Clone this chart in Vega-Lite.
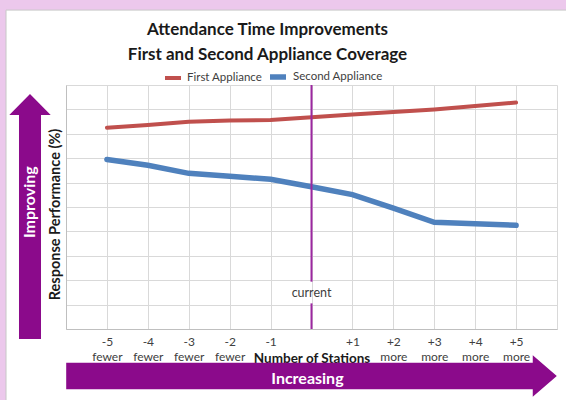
{
  "$schema": "https://vega.github.io/schema/vega-lite/v6.json",
  "width": 491,
  "height": 244,
  "autosize": "none",
  "padding": {"left": 66, "top": 85, "right": 9, "bottom": 71},
  "background": "white",
  "config": {"font": "Lato", "view": {"stroke": null}},
  "title": {
    "text": ["Attendance Time Improvements", "First and Second Appliance Coverage"],
    "font": "Lato", "fontSize": 17, "fontWeight": "bold", "color": "#1a1a1a",
    "frame": "group", "anchor": "middle", "dx": -44, "offset": -64, "lineHeight": 25
  },
  "datasets": {
    "frame": [
      {"x": -7.7, "x2": -7.466, "y": 134.8, "y2": -30},
      {"x": -7.7, "x2": 6.4, "y": 134.8, "y2": 130.7}
    ],
    "panel": [{"x": -7.466, "x2": 6.4, "y": 130.7, "y2": -30}],
    "series": [
      {"x": -5, "y": 82.5, "series": "First Appliance"},
      {"x": -4, "y": 83.6, "series": "First Appliance"},
      {"x": -3, "y": 84.9, "series": "First Appliance"},
      {"x": -2, "y": 85.4, "series": "First Appliance"},
      {"x": -1, "y": 85.7, "series": "First Appliance"},
      {"x": 0, "y": 86.8, "series": "First Appliance"},
      {"x": 1, "y": 87.9, "series": "First Appliance"},
      {"x": 2, "y": 88.9, "series": "First Appliance"},
      {"x": 3, "y": 90.0, "series": "First Appliance"},
      {"x": 4, "y": 91.4, "series": "First Appliance"},
      {"x": 5, "y": 92.8, "series": "First Appliance"},
      {"x": -5, "y": 69.5, "series": "Second Appliance"},
      {"x": -4, "y": 67.1, "series": "Second Appliance"},
      {"x": -3, "y": 63.8, "series": "Second Appliance"},
      {"x": -2, "y": 62.6, "series": "Second Appliance"},
      {"x": -1, "y": 61.4, "series": "Second Appliance"},
      {"x": 0, "y": 58.3, "series": "Second Appliance"},
      {"x": 1, "y": 55.1, "series": "Second Appliance"},
      {"x": 2, "y": 49.5, "series": "Second Appliance"},
      {"x": 3, "y": 43.7, "series": "Second Appliance"},
      {"x": 4, "y": 43.1, "series": "Second Appliance"},
      {"x": 5, "y": 42.5, "series": "Second Appliance"}
    ],
    "current": [{"x": 0, "y": 100, "y2": 19.4}, {"x": 0, "y": 10.5, "y2": 0}],
    "currentLabel": [{"x": 0, "y": 14.8, "label": "current"}],
    "upArrow": [{"x": -6.88, "y": 46.07}],
    "rightArrow": [{"x": 0, "y": -19.26}],
    "arrowLabels": [
      {"x": -6.88, "y": 52, "label": "Improving", "dir": "up"},
      {"x": -0.1, "y": -20.5, "label": "Increasing", "dir": "right"}
    ]
  },
  "encoding": {
    "x": {
      "field": "x", "type": "quantitative",
      "scale": {"domain": [-6, 6], "nice": false, "zero": false},
      "axis": {
        "values": [-6, -5, -4, -3, -2, -1, 0, 1, 2, 3, 4, 5, 6],
        "labelExpr": "datum.value == 0 || abs(datum.value) == 6 ? '' : datum.value == -1 ? '-1' : datum.value == 1 ? '+1' : datum.value < 0 ? ['' + datum.value, 'fewer'] : ['+' + datum.value, 'more']",
        "labelFont": "Lato", "labelFontSize": 12, "labelColor": "#404040",
        "labelLineHeight": 15, "labelPadding": 7, "labelOverlap": false, "labelBound": false,
        "ticks": false, "grid": true, "gridColor": "#d9d9d9", "domainColor": "#bfbfbf",
        "title": "Number of Stations", "titleFont": "Lato", "titleFontSize": 13.5,
        "titleFontWeight": "bold", "titleColor": "#1a1a1a", "titleBaseline": "alphabetic", "titleY": 33
      }
    },
    "y": {
      "field": "y", "type": "quantitative",
      "scale": {"domain": [0, 100], "nice": false, "zero": false},
      "axis": {
        "values": [0, 10, 20, 30, 40, 50, 60, 70, 80, 90, 100],
        "labels": false, "ticks": false, "grid": true, "gridColor": "#d9d9d9", "domainColor": "#bfbfbf",
        "title": "Response Performance (%)", "titleFont": "Lato", "titleFontSize": 14.5,
        "titleFontWeight": "bold", "titleColor": "#1a1a1a", "titlePadding": 4, "titleY": 129
      }
    }
  },
  "layer": [
    {
      "data": {"name": "frame"},
      "mark": {"type": "rect", "fill": "#ecc8ec", "clip": false},
      "encoding": {"x2": {"field": "x2"}, "y2": {"field": "y2"}}
    },
    {
      "data": {"name": "panel"},
      "mark": {"type": "rect", "fill": null, "fillOpacity": 0, "stroke": "#c8c8c8", "strokeWidth": 1, "clip": false},
      "encoding": {"x2": {"field": "x2"}, "y2": {"field": "y2"}}
    },
    {
      "data": {"name": "series"},
      "mark": {"type": "line", "strokeCap": "round"},
      "encoding": {
        "color": {
          "field": "series", "type": "nominal",
          "scale": {"domain": ["First Appliance", "Second Appliance"], "range": ["#c0504d", "#4f81bd"]},
          "legend": {
            "title": null, "orient": "none", "direction": "horizontal", "legendX": 97, "legendY": -19,
            "symbolType": "stroke", "symbolStrokeWidth": 4, "symbolSize": 256,
            "labelFont": "Lato", "labelFontSize": 11.5, "labelColor": "#404040",
            "labelOffset": 4, "columnPadding": -4, "padding": 0
          }
        },
        "strokeWidth": {
          "field": "series", "type": "nominal",
          "scale": {"domain": ["First Appliance", "Second Appliance"], "range": [4, 5.5]},
          "legend": null
        }
      }
    },
    {
      "data": {"name": "current"},
      "mark": {"type": "rule", "color": "#9c27a0", "strokeWidth": 2},
      "encoding": {"y2": {"field": "y2"}}
    },
    {
      "data": {"name": "currentLabel"},
      "mark": {"type": "text", "font": "Lato", "fontSize": 12.5, "color": "#404040", "baseline": "middle"},
      "encoding": {"text": {"field": "label"}}
    },
    {
      "data": {"name": "upArrow"},
      "mark": {
        "type": "point", "filled": true, "fill": "#8b0a8b", "opacity": 1, "strokeWidth": 0, "clip": false,
        "size": 60025,
        "shape": "M-0.0898,1L0.0898,1L0.0898,-0.829L0.169,-0.829L0,-1L-0.169,-0.829L-0.0898,-0.829Z"
      }
    },
    {
      "data": {"name": "rightArrow"},
      "mark": {
        "type": "point", "filled": true, "fill": "#8b0a8b", "opacity": 1, "strokeWidth": 0, "clip": false,
        "size": 240688,
        "shape": "M-1,-0.0542L0.902,-0.0542L0.902,-0.0848L1,0L0.902,0.0848L0.902,0.0542L-1,0.0542Z"
      }
    },
    {
      "data": {"name": "arrowLabels"},
      "transform": [{"filter": "datum.dir == 'up'"}],
      "mark": {"type": "text", "font": "Lato", "fontSize": 16, "fontWeight": "bold", "color": "white", "angle": 270, "baseline": "middle", "clip": false},
      "encoding": {"text": {"field": "label"}}
    },
    {
      "data": {"name": "arrowLabels"},
      "transform": [{"filter": "datum.dir == 'right'"}],
      "mark": {"type": "text", "font": "Lato", "fontSize": 16, "fontWeight": "bold", "color": "white", "baseline": "middle", "clip": false},
      "encoding": {"text": {"field": "label"}}
    }
  ]
}
